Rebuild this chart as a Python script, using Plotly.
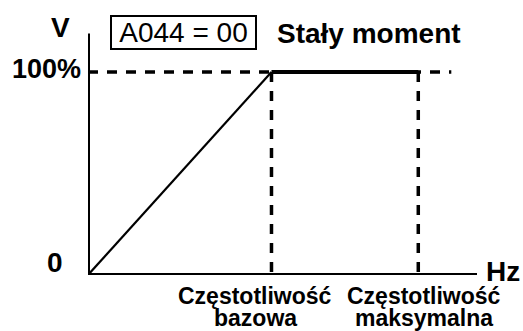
import plotly.graph_objects as go

# V/f characteristic, constant torque (A044 = 00)
freq_base = 50       # base frequency
freq_max = 90        # maximum frequency
ramp_x = [0, freq_base]
ramp_y = [0, 100]
flat_x = [freq_base, freq_max]
flat_y = [100, 100]
x_axis_end = 106
y_axis_end = 119
dash_end = 99

font = "Liberation Sans, Arial, sans-serif"

fig = go.Figure()
fig.add_trace(go.Scatter(x=ramp_x, y=ramp_y, mode="lines",
                         line=dict(color="black", width=2.2), hoverinfo="skip"))
fig.add_trace(go.Scatter(x=flat_x, y=flat_y, mode="lines",
                         line=dict(color="black", width=4), hoverinfo="skip"))

dash = dict(color="black", width=3.5, dash="10px,9px")
fig.add_shape(type="line", x0=0, x1=dash_end, y0=100, y1=100, line=dash, layer="below")
fig.add_shape(type="line", x0=freq_base, x1=freq_base, y0=100, y1=0, line=dash, layer="below")
fig.add_shape(type="line", x0=freq_max, x1=freq_max, y0=100, y1=0, line=dash, layer="below")

# axes
fig.add_shape(type="line", x0=0, x1=x_axis_end, y0=0, y1=0, line=dict(color="black", width=4))
fig.add_shape(type="line", x0=0, x1=0, y0=0, y1=y_axis_end, line=dict(color="black", width=4))


def bold(size):
    return dict(family=font, size=size, color="black")


ann = [
    dict(x=0, y=y_axis_end, text="<b>V</b>", xanchor="center", yanchor="middle", xshift=-28, yshift=6, font=bold(28)),
    dict(x=0, y=100, text="<b>100%</b>", xanchor="right", yanchor="middle", xshift=-5, yshift=3, font=bold(27)),
    dict(x=0, y=0, text="<b>0</b>", xanchor="center", yanchor="middle", xshift=-33, yshift=13, font=bold(28)),
    dict(x=x_axis_end, y=0, text="<b>Hz</b>", xanchor="left", yanchor="middle", xshift=7, yshift=4, font=bold(28)),
    dict(x=freq_base, y=0, text="<b>Częstotliwość</b>", xanchor="center", yanchor="middle", xshift=-16, yshift=-21, font=bold(23)),
    dict(x=freq_base, y=0, text="<b>bazowa</b>", xanchor="center", yanchor="middle", xshift=-16, yshift=-43, font=bold(23)),
    dict(x=freq_max, y=0, text="<b>Częstotliwość</b>", xanchor="center", yanchor="middle", xshift=6, yshift=-21, font=bold(23)),
    dict(x=freq_max, y=0, text="<b>maksymalna</b>", xanchor="center", yanchor="middle", xshift=6, yshift=-43, font=bold(23)),
    dict(x=25.95, y=y_axis_end, text="A044 = 00", xanchor="center", yanchor="middle", yshift=1,
         width=143, height=31, align="center", valign="middle",
         bordercolor="black", borderwidth=2, borderpad=0, font=dict(family=font, size=28, color="black")),
    dict(x=76.5, y=y_axis_end, text="<b>Stały moment</b>", xanchor="center", yanchor="middle", yshift=0, font=bold(28)),
]
for a in ann:
    a.update(xref="x", yref="y", showarrow=False)
fig.update_layout(annotations=ann)

fig.update_layout(
    width=523, height=331,
    margin=dict(l=88, r=46, t=31, b=56, autoexpand=False),
    paper_bgcolor="white", plot_bgcolor="white",
    showlegend=False,
    xaxis=dict(range=[0, x_axis_end], visible=False, fixedrange=True),
    yaxis=dict(range=[0, 120.2], visible=False, fixedrange=True),
)
# drop the default 8px page margin so the figure fills the window
fig.write_html("out.html", config={"displayModeBar": False},
               post_script="document.body.style.margin='0';document.body.style.overflow='hidden';")
